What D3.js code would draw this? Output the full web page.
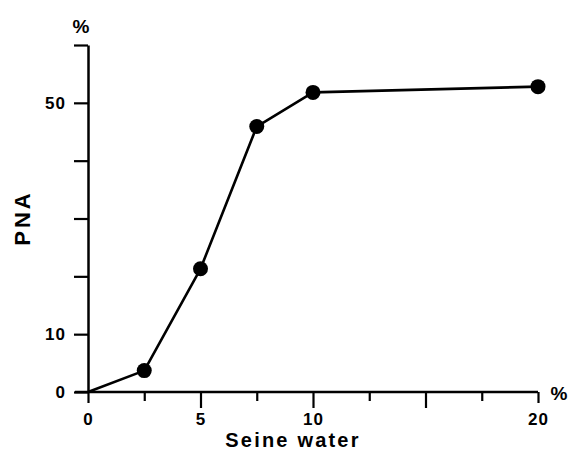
<!DOCTYPE html>
<html>
<head>
<meta charset="utf-8">
<script src="https://cdn.jsdelivr.net/npm/d3@7"></script>
<style>
  html, body { margin: 0; padding: 0; background: #fff; }
  svg { display: block; }
  text { font-family: "Liberation Sans", Arial, sans-serif; font-weight: bold; fill: #000; }
</style>
</head>
<body>
<svg id="chart" width="571" height="451"></svg>
<script>
// Seine water concentration (%) and PNA response (%)
const seineWater = [0, 2.5, 5, 7.5, 10, 20];
const pna = [0, 3.7, 21.3, 45.9, 51.8, 52.8];

const xTicks = [0, 2.5, 5, 7.5, 10, 12.5, 15, 17.5, 20];
const xTickLabels = [0, 5, 10, 20];
const yTicks = [0, 10, 20, 30, 40, 50, 60];
const yTickLabels = [0, 10, 50];

const svg = d3.select("#chart");

const x = d3.scaleLinear().domain([0, 20]).range([88, 538]);
const y = d3.scaleLinear().domain([0, 60]).range([392, 45]);

const ink = "#000";

// x axis
const xAxis = svg.append("g")
  .attr("transform", `translate(0,${y(0)})`)
  .call(d3.axisBottom(x)
    .tickValues(xTicks)
    .tickSizeOuter(0)
    .tickPadding(20)
    .tickFormat(d => xTickLabels.includes(d) ? d3.format("d")(d) : ""));
xAxis.select(".domain").attr("stroke", ink).attr("stroke-width", 2.5)
  .attr("d", `M${x(0) - 13},0H${x(20)}`);
xAxis.selectAll(".tick line")
  .attr("stroke", ink).attr("stroke-width", 2.2)
  .attr("y2", d => (d === 5 || d === 10 || d === 15) ? 16 : (d === 0 || d === 20 ? 11 : 9));
xAxis.selectAll(".tick text")
  .attr("font-size", 17).attr("letter-spacing", 1).attr("dy", "0.32em").attr("y", 28);

// y axis
const yAxis = svg.append("g")
  .attr("transform", `translate(${x(0)},0)`)
  .call(d3.axisLeft(y)
    .tickValues(yTicks)
    .tickSizeOuter(0)
    .tickSizeInner(14)
    .tickPadding(8)
    .tickFormat(d => yTickLabels.includes(d) ? d3.format("d")(d) : ""));
yAxis.select(".domain").attr("stroke", ink).attr("stroke-width", 2.5);
yAxis.selectAll(".tick line").attr("stroke", ink).attr("stroke-width", 2.2);
yAxis.selectAll(".tick text").attr("font-size", 17).attr("letter-spacing", 1);

// unit marks and axis titles
svg.append("text").attr("x", 81).attr("y", 26).attr("dy", "0.35em")
  .attr("text-anchor", "middle").attr("font-size", 19).text("%");
svg.append("text").attr("x", 559).attr("y", 393).attr("dy", "0.35em")
  .attr("text-anchor", "middle").attr("font-size", 19).text("%");
svg.append("text").attr("x", 293).attr("y", 440).attr("dy", "0.35em")
  .attr("text-anchor", "middle").attr("font-size", 20).attr("letter-spacing", 2.2)
  .text("Seine water");
svg.append("text")
  .attr("transform", "translate(22,218) rotate(-90)")
  .attr("dy", "0.35em").attr("text-anchor", "middle")
  .attr("font-size", 22).attr("letter-spacing", 3).text("PNA");

// response curve
const pts = seineWater.map((v, i) => [v, pna[i]]);
svg.append("path")
  .datum(pts)
  .attr("fill", "none").attr("stroke", ink).attr("stroke-width", 2.6)
  .attr("stroke-linejoin", "round")
  .attr("d", d3.line().x(d => x(d[0])).y(d => y(d[1])));

svg.selectAll("circle.pt")
  .data(pts.filter(d => d[0] > 0))
  .join("circle").attr("class", "pt")
  .attr("cx", d => x(d[0])).attr("cy", d => y(d[1]))
  .attr("r", 7.5).attr("fill", ink);
</script>
</body>
</html>
